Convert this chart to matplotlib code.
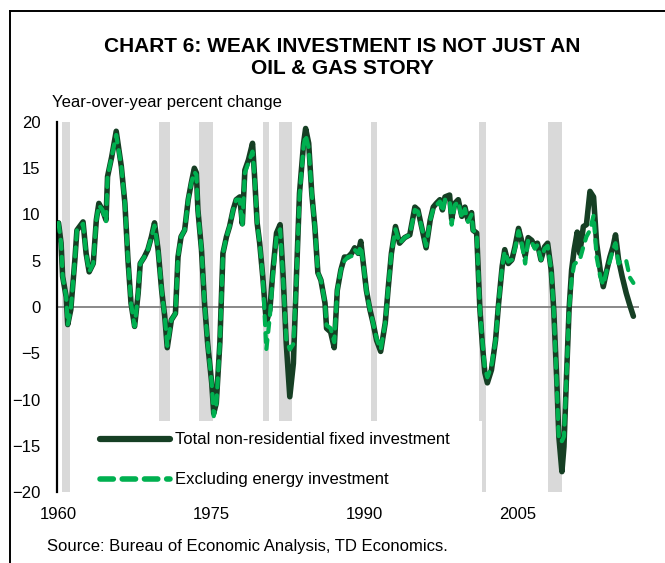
import matplotlib
matplotlib.use("Agg")
import matplotlib.pyplot as plt
from matplotlib.lines import Line2D
from matplotlib.patches import Rectangle

plt.rcParams['font.family'] = ['Liberation Sans', 'DejaVu Sans']

# Year-over-year % change (decimal years)
total_x = [1960.0, 1960.25, 1960.4, 1960.75, 1960.9, 1961.2, 1961.6, 1961.8, 1962.4, 1962.7,
           1963.0, 1963.4, 1963.7, 1963.95, 1964.3, 1964.65, 1964.8, 1965.2, 1965.65, 1966.15,
           1966.5, 1966.8, 1967.1, 1967.45, 1967.8, 1968.0, 1968.4, 1968.75, 1969.1, 1969.4,
           1969.75, 1970.1, 1970.4, 1970.65, 1971.05, 1971.45, 1971.7, 1972.0, 1972.35, 1972.7,
           1973.0, 1973.3, 1973.5, 1973.65, 1974.0, 1974.3, 1974.6, 1975.0, 1975.2, 1975.45,
           1975.8, 1976.1, 1976.45, 1976.75, 1977.1, 1977.4, 1977.75, 1978.0, 1978.25, 1978.6,
           1979.0, 1979.2, 1979.45, 1979.7, 1980.0, 1980.35, 1980.7, 1981.0, 1981.35, 1981.7,
           1982.0, 1982.3, 1982.65, 1983.0, 1983.3, 1983.6, 1984.0, 1984.2, 1984.5, 1984.8,
           1985.1, 1985.4, 1985.7, 1986.1, 1986.25, 1986.65, 1987.0, 1987.3, 1987.65, 1988.0,
           1988.35, 1988.7, 1989.0, 1989.35, 1989.6, 1989.85, 1990.15, 1990.5, 1990.8, 1991.15,
           1991.55, 1992.0, 1992.3, 1992.6, 1993.0, 1993.4, 1993.9, 1994.4, 1994.9, 1995.2,
           1995.55, 1996.0, 1996.4, 1996.7, 1997.0, 1997.35, 1997.6, 1997.85, 1998.3, 1998.5,
           1998.8, 1999.15, 1999.5, 1999.8, 2000.1, 2000.45, 2000.6, 2000.95, 2001.1, 2001.27,
           2001.5, 2001.75, 2002.0, 2002.4, 2002.8, 2003.1, 2003.45, 2003.7, 2004.05, 2004.4,
           2004.7, 2005.05, 2005.35, 2005.7, 2006.0, 2006.35, 2006.65, 2006.9, 2007.25, 2007.6,
           2007.9, 2008.25, 2008.5, 2008.8, 2009.0, 2009.3, 2009.5, 2009.75, 2010.0, 2010.25,
           2010.5, 2010.8, 2011.05, 2011.4, 2011.7, 2012.05, 2012.4, 2012.7, 2013.05, 2013.35,
           2013.7, 2014.0, 2014.3, 2014.55, 2014.85, 2015.2, 2015.6, 2015.95, 2016.3]
total_y = [9.1, 6.9, 3.3, 1.1, -1.9, -0.3, 5.1, 8.3, 9.2, 5.8,
           3.8, 4.7, 9.4, 11.2, 10.5, 9.4, 14.1, 16.2, 19.0, 15.2,
           11.2, 5.1, 0.4, -2.1, 1.5, 4.7, 5.4, 6.2, 7.6, 9.1,
           6.2, 1.8, -1.0, -4.4, -1.4, -0.7, 5.4, 7.6, 8.3, 11.6,
           13.4, 15.0, 14.5, 10.5, 6.2, 0.4, -3.9, -8.2, -11.5, -10.4,
           -3.9, 5.8, 7.6, 8.7, 10.5, 11.6, 11.9, 9.0, 14.8, 15.9,
           17.7, 14.1, 9.1, 6.9, 3.3, -1.7, -0.3, 4.0, 8.0, 8.9,
           3.3, -3.9, -9.7, -6.1, 3.3, 12.3, 17.7, 19.3, 17.7, 12.3,
           8.7, 3.7, 2.9, 0.4, -2.3, -2.7, -4.4, 1.8, 4.0, 5.4,
           5.4, 5.8, 6.4, 5.8, 7.1, 4.7, 1.8, -0.3, -1.7, -3.6,
           -4.8, -1.7, 2.2, 5.8, 8.7, 6.9, 7.5, 7.8, 10.8, 10.5,
           8.7, 6.4, 9.4, 10.8, 11.2, 11.6, 10.5, 11.9, 12.1, 9.5,
           11.2, 11.6, 9.8, 10.8, 9.4, 10.2, 8.3, 8.0, 4.0, -0.3,
           -3.9, -7.1, -8.2, -6.8, -3.6, 0.4, 4.4, 6.2, 4.7, 5.1,
           6.5, 8.5, 7.2, 5.5, 7.5, 7.2, 6.5, 6.9, 5.1, 6.5,
           6.9, 4.0, -0.3, -8.0, -14.0, -17.8, -15.1, -7.5, -0.3, 4.0,
           6.2, 8.1, 5.8, 8.7, 8.9, 12.5, 11.9, 6.9, 4.0, 2.2,
           4.0, 5.4, 6.5, 7.8, 5.1, 3.3, 1.5, 0.2, -1.0]

ex_energy_y = [9.1, 6.9, 3.3, 1.1, -1.9, -0.3, 5.1, 8.3, 9.0, 5.8,
               3.8, 4.7, 9.4, 11.0, 10.5, 9.2, 14.1, 16.2, 18.6, 15.2,
               11.2, 5.1, 0.4, -2.1, 1.5, 4.7, 5.4, 6.2, 7.6, 8.8,
               6.2, 1.8, -1.0, -4.2, -1.4, -0.7, 5.4, 7.6, 8.3, 11.6,
               13.4, 14.6, 14.3, 10.5, 6.2, 0.4, -3.9, -8.2, -11.8, -10.6,
               -3.9, 5.8, 7.6, 8.7, 10.5, 11.6, 11.6, 8.7, 14.5, 15.6,
               16.8, 14.1, 9.1, 6.9, 3.3, -4.6, -1.0, 3.5, 7.6, 8.4,
               3.0, -3.5, -4.6, -4.0, 3.0, 12.0, 17.4, 18.6, 17.2, 12.3,
               8.7, 3.7, 2.9, 0.4, -2.0, -2.3, -3.8, 1.8, 4.0, 5.0,
               5.4, 5.5, 6.2, 5.8, 6.6, 4.7, 1.8, -0.3, -1.7, -3.4,
               -4.6, -1.7, 2.2, 5.8, 8.4, 6.9, 7.5, 7.8, 10.5, 10.3,
               8.7, 6.6, 9.4, 10.6, 11.0, 11.4, 10.3, 11.6, 11.6, 8.9,
               11.0, 11.4, 9.6, 10.6, 9.2, 10.0, 8.3, 8.0, 4.0, -0.3,
               -3.6, -6.6, -7.6, -6.4, -3.6, 0.4, 4.4, 6.0, 4.9, 5.1,
               6.3, 8.2, 7.0, 4.7, 7.3, 7.0, 6.3, 6.7, 5.1, 6.3,
               6.6, 4.0, -0.3, -8.5, -14.5, -14.5, -14.0, -7.5, -0.3, 3.0,
               4.6, 4.9, 5.1, 6.5, 7.6, 8.3, 9.9, 5.4, 3.3, 2.4,
               4.0, 5.0, 6.2, 6.9, 4.7, 5.1, 5.0, 3.2, 2.6]

# recession periods (start, end)
rec_start = [1960.3, 1969.8, 1973.8, 1980.0, 1981.6, 1990.6, 2001.2, 2007.9]
rec_end = [1961.1, 1970.9, 1975.1, 1980.6, 1982.9, 1991.2, 2001.9, 2009.3]

yticks = [-20, -15, -10, -5, 0, 5, 10, 15, 20]
xticks = [1960, 1975, 1990, 2005]

dark = '#163F24'
green = '#00B050'

fig = plt.figure(figsize=(6.65, 5.63), dpi=100)
ax = fig.add_axes([57/665, 71/563, 582/665, 370/563])

for s, e in zip(rec_start, rec_end):
    ax.axvspan(s, e, color='#D9D9D9', lw=0, zorder=0)

ax.axhline(0, color='#808080', lw=1.3, zorder=1)

ax.plot(total_x, total_y, color=dark, lw=4.0, solid_capstyle='round',
        solid_joinstyle='round', zorder=2)
ax.plot(total_x, ex_energy_y, color=green, lw=3.0, dashes=(2.2, 1.9),
        dash_capstyle='round', zorder=3)

ax.set_xlim(1959.85, 2016.85)
ax.set_ylim(-20, 20)
ax.set_yticks(yticks)
ax.set_xticks(xticks)
ax.tick_params(axis='both', length=0, labelsize=12)
ax.tick_params(axis='y', pad=12)
ax.tick_params(axis='x', pad=11)
for sp in ['top', 'right', 'bottom']:
    ax.spines[sp].set_visible(False)
ax.spines['left'].set_linewidth(1.6)
ax.spines['left'].set_color('black')

# white box behind the legend (hides the recession bars there)
fig.add_artist(Rectangle((88/665, 1 - 496/563), (482 - 88)/665, (496 - 421)/563,
                         transform=fig.transFigure, facecolor='white', edgecolor='none',
                         zorder=4))

handles = [Line2D([], [], color=dark, lw=4.5, solid_capstyle='round'),
           Line2D([], [], color=green, lw=4.0, dashes=(2.4, 1.6), dash_capstyle='round')]
labels = ['Total non-residential fixed investment', 'Excluding energy investment']
leg = fig.legend(handles, labels, loc='upper left', bbox_to_anchor=(92/665, (563-424)/563),
                 borderaxespad=0, frameon=False, fontsize=12, handlelength=4.2,
                 handletextpad=0.3, labelspacing=1.5, borderpad=0.5)
leg.set_zorder(5)

title_font = dict(ha='center', va='center', fontsize=15, fontweight='bold')
fig.text(342/665, 1 - 46/563, 'CHART 6: WEAK INVESTMENT IS NOT JUST AN', **title_font)
fig.text(342/665, 1 - 68/563, 'OIL & GAS STORY', **title_font)
fig.text(52/665, 1 - 103/563, 'Year-over-year percent change', ha='left', va='center', fontsize=12)
fig.text(47/665, 1 - 547/563, 'Source: Bureau of Economic Analysis, TD Economics.',
         ha='left', va='center', fontsize=12)

# frame lines
fig.add_artist(Line2D([10/665, 10/665], [0, 1 - 11/563], transform=fig.transFigure,
                      color='black', lw=1.4))
fig.add_artist(Line2D([10/665, 1], [1 - 11/563, 1 - 11/563], transform=fig.transFigure,
                      color='black', lw=1.4))

fig.savefig('out.png', dpi=100)
